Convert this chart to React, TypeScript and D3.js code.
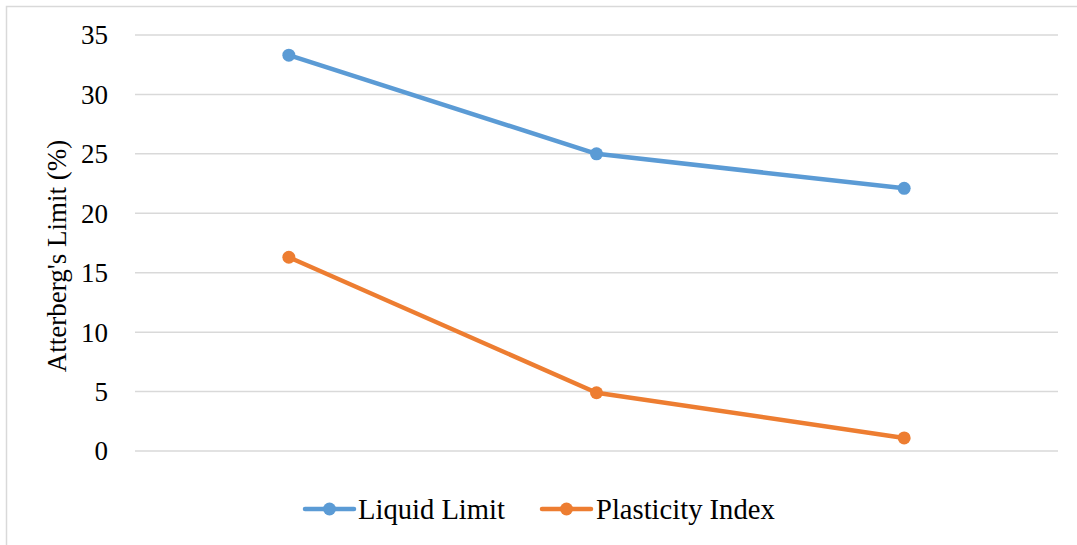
import React from "react";
import * as d3 from "d3";

// Atterberg limits for three samples
const samples = ["S1", "S2", "S3"];
const liquidLimit = [33.3, 25.0, 22.1];
const plasticityIndex = [16.3, 4.9, 1.1];
const yTicks = [0, 5, 10, 15, 20, 25, 30, 35];

const seriesList = [
  { name: "Liquid Limit", values: liquidLimit, color: "#5B9BD5" },
  { name: "Plasticity Index", values: plasticityIndex, color: "#ED7D31" },
];

const W = 1077;
const H = 545;
const plot = { left: 135, right: 1058, top: 35, bottom: 451 };
const FONT = "Times New Roman, Liberation Serif, DejaVu Serif, serif";

export default function App() {
  const x = d3
    .scaleBand<string>()
    .domain(samples)
    .range([plot.left, plot.right])
    .padding(0);
  const y = d3.scaleLinear().domain([0, 35]).range([plot.bottom, plot.top]);
  const cx = (s: string) => (x(s) as number) + x.bandwidth() / 2;

  const line = d3
    .line<number>()
    .x((_, i) => cx(samples[i]))
    .y((v) => y(v));

  const legendItems = [
    { x0: 305, textX: 358 },
    { x0: 542, textX: 596 },
  ];

  const textStyle = { fontFamily: FONT };

  return (
    <svg
      width={W}
      height={H}
      style={{ position: "absolute", left: 0, top: 0, background: "#fff" }}
    >
      <rect
        x={6.5}
        y={6.5}
        width={W + 10}
        height={H + 10}
        fill="#fff"
        stroke="#D9D9D9"
        strokeWidth={1.5}
      />
      {yTicks.map((t) => (
        <g key={t}>
          <line
            x1={plot.left}
            x2={plot.right}
            y1={y(t)}
            y2={y(t)}
            stroke="#D9D9D9"
            strokeWidth={1.5}
          />
          <text
            x={108}
            y={y(t)}
            dy="0.35em"
            textAnchor="end"
            style={textStyle}
            fontSize={27}
            fill="#000"
          >
            {t}
          </text>
        </g>
      ))}
      <text
        transform={`translate(66,${256}) rotate(-90)`}
        textAnchor="middle"
        style={textStyle}
        fontSize={27}
        fill="#000"
      >
        Atterberg's Limit (%)
      </text>
      {seriesList.map((s) => (
        <g key={s.name}>
          <path
            d={line(s.values) || ""}
            fill="none"
            stroke={s.color}
            strokeWidth={4.5}
            strokeLinejoin="round"
            strokeLinecap="round"
          />
          {s.values.map((v, i) => (
            <circle key={i} cx={cx(samples[i])} cy={y(v)} r={6.5} fill={s.color} />
          ))}
        </g>
      ))}
      {seriesList.map((s, i) => {
        const l = legendItems[i];
        return (
          <g key={s.name}>
            <line
              x1={l.x0}
              x2={l.x0 + 49}
              y1={509}
              y2={509}
              stroke={s.color}
              strokeWidth={4.5}
              strokeLinecap="round"
            />
            <circle cx={l.x0 + 24.5} cy={509} r={6.5} fill={s.color} />
            <text
              x={l.textX}
              y={509}
              dy="0.35em"
              style={textStyle}
              fontSize={28.6}
              fill="#000"
            >
              {s.name}
            </text>
          </g>
        );
      })}
    </svg>
  );
}
